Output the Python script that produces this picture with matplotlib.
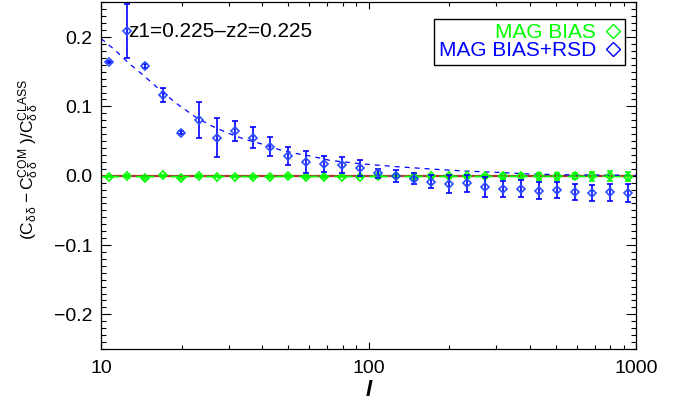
import matplotlib
matplotlib.use('Agg')
import matplotlib.pyplot as plt
from matplotlib.lines import Line2D

plt.rcParams['font.family'] = ['Liberation Sans', 'DejaVu Sans']
plt.rcParams['mathtext.fontset'] = 'custom'
plt.rcParams['mathtext.rm'] = 'Liberation Sans'
plt.rcParams['mathtext.it'] = 'Liberation Sans:italic'

# multipoles
ELL = [10.74, 12.53, 14.62, 17.06, 19.89, 23.21, 27.08, 31.59, 36.85, 42.96,
       50.12, 58.47, 68.21, 79.51, 92.76, 108.3, 126.2, 147.3, 171.8, 200.4,
       233.7, 272.7, 317.9, 370.9, 432.8, 504.7, 588.8, 686.7, 801.3, 933.3]

# MAG BIAS+RSD
BLUE_VAL = [0.164, 0.209, 0.1585, 0.1163, 0.062, 0.0803, 0.0548, 0.0644, 0.0548, 0.0418,
            0.0288, 0.0202, 0.0169, 0.0154, 0.011, 0.0035, -0.0004, -0.004, -0.0086, -0.0124,
            -0.011, -0.0163, -0.019, -0.0187, -0.0216, -0.0206, -0.024, -0.025, -0.024, -0.025]
BLUE_ERR = [0.002, 0.039, 0.003, 0.0099, 0.002, 0.026, 0.028, 0.0147, 0.015, 0.014,
            0.013, 0.016, 0.011, 0.012, 0.012, 0.0065, 0.0085, 0.008, 0.009, 0.013,
            0.012, 0.015, 0.012, 0.0125, 0.012, 0.012, 0.0115, 0.0115, 0.0125, 0.013]

# MAG BIAS
GREEN_VAL = [-0.0014, -0.0005, -0.0034, 0.0005, -0.0038, -0.0005, -0.0014, -0.0014, -0.0019, -0.0019,
             -0.0005, -0.0019, -0.0014, -0.0012, -0.0012, -0.001, -0.001, -0.0012, -0.001, -0.001,
             -0.001, -0.001, -0.0008, -0.0008, -0.0008, -0.0005, -0.0008, -0.001, -0.0008, -0.0012]
GREEN_ERR = [0.0008, 0.0015, 0.001, 0.001, 0.0008, 0.0015, 0.001, 0.001, 0.001, 0.001,
             0.0012, 0.0012, 0.0012, 0.0012, 0.0012, 0.0012, 0.0014, 0.002, 0.002, 0.0026,
             0.0026, 0.0026, 0.0036, 0.0038, 0.0048, 0.005, 0.0046, 0.006, 0.0072, 0.0067]

# model curves (dashed)
MODEL_ELL = [10, 11.3, 12.65, 14.6, 16.9, 19.5, 22.5, 26, 30, 34.6, 40, 46.1, 53.3, 61.5,
             72, 95.8, 128, 171, 227, 303, 404, 538, 719, 1000]
MODEL_BLUE = [0.198, 0.181, 0.163, 0.143, 0.121, 0.102, 0.085, 0.0716, 0.061, 0.0524, 0.0457,
              0.038, 0.0323, 0.028, 0.022, 0.0169, 0.013, 0.0097, 0.0068, 0.0049, 0.0024,
              0.0014, 0.001, 0.0006]
MODEL_GREEN_ELL = [10, 1000]
MODEL_GREEN = [-0.0013, -0.0009]

YTICKS = [-0.2, -0.1, 0.0, 0.1, 0.2]
XTICKS = [10, 100, 1000]

BLUE = '#0000ff'
GREEN = '#00ff00'
RED = '#b83232'

fig = plt.figure(figsize=(6.84, 4.05), dpi=100)
ax = fig.add_axes([0.1477, 0.1383, 0.7822, 0.8556])

ax.axhline(0.0, color=RED, lw=1.6, zorder=1)
ax.plot(MODEL_GREEN_ELL, MODEL_GREEN, color=GREEN, ls=(0, (4, 3)), lw=1.2, zorder=2)
ax.plot(MODEL_ELL, MODEL_BLUE, color=BLUE, ls=(0, (4, 4)), lw=0.9, zorder=2)

ax.errorbar(ELL, GREEN_VAL, yerr=GREEN_ERR, fmt='D', ms=4.5, mfc='none', mec=GREEN, mew=1.2,
            ecolor=GREEN, elinewidth=1.2, capsize=2.5, capthick=1.2, zorder=3)
ax.errorbar(ELL, BLUE_VAL, yerr=BLUE_ERR, fmt='D', ms=4.5, mfc='none', mec='#2a4cff', mew=1.2,
            ecolor=BLUE, elinewidth=1.2, capsize=2.5, capthick=1.2, zorder=4)

ax.set_xscale('log')
ax.set_xlim(10, 1000)
ax.set_ylim(-0.25, 0.25)
ax.set_xticks(XTICKS)
ax.set_xticklabels([str(t) for t in XTICKS])
ax.set_yticks(YTICKS)
ax.set_yticklabels([('%.1f' % t).replace('-', '\u2212') for t in YTICKS])
ax.set_yticks([v / 100 for v in range(-25, 26)], minor=True)

ax.tick_params(which='both', direction='in', top=True, right=True, labelsize=14, width=0.8)
ax.tick_params(axis='y', which='major', length=7.5, pad=6)
ax.tick_params(axis='y', which='minor', length=3.8)
ax.tick_params(axis='x', which='major', length=5, pad=8)
ax.tick_params(axis='x', which='minor', length=3)
for s in ax.spines.values():
    s.set_linewidth(0.9)

ax.set_xlabel('l', fontsize=16, fontstyle='italic', fontweight='bold', labelpad=2)
ax.set_ylabel(r'$(\mathrm{C}_{\mathrm{\delta\,\delta}}-\mathrm{C}^{\mathrm{COM}}_{\mathrm{\delta\,\delta}}\ )/'
              r'\mathrm{C}^{\mathrm{CLASS}}_{\mathrm{\delta\,\delta}}$', fontsize=12.5)
ax.yaxis.set_label_coords(-0.112, 0.548)

ax.text(0.05, 0.916, 'z1=0.225\u2013z2=0.225', transform=ax.transAxes, fontsize=15,
        ha='left', va='center')

handles = [Line2D([], [], ls='none', marker='D', ms=7, mfc='none', mec=GREEN, mew=1.0),
           Line2D([], [], ls='none', marker='D', ms=7, mfc='none', mec=BLUE, mew=1.0)]
leg = ax.legend(handles, ['MAG BIAS', 'MAG BIAS+RSD'], loc='upper right',
                bbox_to_anchor=(0.9794, 0.9515), borderaxespad=0, fontsize=15,
                markerfirst=False, frameon=True, fancybox=False, framealpha=1,
                edgecolor='black', labelspacing=-0.05, handlelength=0.8, handletextpad=0.4,
                borderpad=0.2, labelcolor=[GREEN, BLUE])
leg.get_frame().set_linewidth(1.0)

fig.savefig('out.png', dpi=100)
